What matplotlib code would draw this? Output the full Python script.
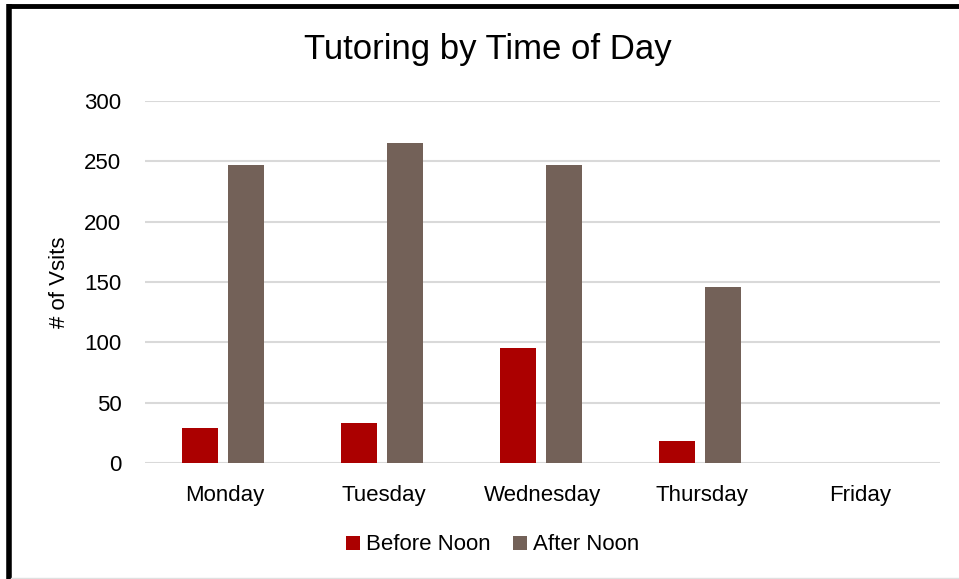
import matplotlib
matplotlib.use("Agg")
import matplotlib.pyplot as plt
import numpy as np
from matplotlib.lines import Line2D

categories = ["Monday", "Tuesday", "Wednesday", "Thursday", "Friday"]
before_noon = [29, 33, 95, 18, 0]
after_noon = [247, 265, 247, 146, 0]
yticks = [0, 50, 100, 150, 200, 250, 300]

plt.rcParams['font.family'] = ['Liberation Sans', 'DejaVu Sans']

fig = plt.figure(figsize=(9.59, 5.79), dpi=100)
ax = fig.add_axes([145/959, 1-463/579, (940-145)/959, (463-101)/579])

x = np.arange(len(categories))
w = 0.226
gap = 0.06
ax.bar(x - (w+gap)/2 - 0.01, before_noon, width=w, color="#AB0000", label="Before Noon", zorder=3)
ax.bar(x + (w+gap)/2 - 0.01, after_noon, width=w, color="#736158", label="After Noon", zorder=3)

ax.set_xlim(-0.5, len(categories)-0.5)
ax.set_ylim(0, 300)
ax.set_yticks(yticks)
ax.set_yticklabels([str(t) for t in yticks], fontsize=16)
ax.set_xticks(x)
ax.set_xticklabels(categories, fontsize=16)
ax.tick_params(axis='x', length=0, pad=16)
ax.tick_params(axis='y', length=0, pad=17)
ax.yaxis.grid(True, color="#D9D9D9", linewidth=1.5, zorder=0)
for s in ax.spines.values():
    s.set_visible(False)
ax.set_ylabel("# of Vsits", fontsize=16, labelpad=10)

fig.text(488/959, 1-49/579, "Tutoring by Time of Day", fontsize=25, ha="center", va="center")

ax.legend(loc="center", bbox_to_anchor=(493/959, 1-545/579), bbox_transform=fig.transFigure,
          ncol=2, frameon=False, fontsize=16, handlelength=0.6, handleheight=0.6,
          handletextpad=0.3, columnspacing=1.0)

# border
fig.add_artist(Line2D([8.5/959, 8.5/959], [0, 1-4/579], transform=fig.transFigure, color="black", linewidth=4, solid_capstyle="butt"))
fig.add_artist(Line2D([6.5/959, 1], [1-6/579, 1-6/579], transform=fig.transFigure, color="black", linewidth=3.5, solid_capstyle="butt"))
fig.add_artist(Line2D([11/959, 1], [1.5/579, 1.5/579], transform=fig.transFigure, color="#E0E0E0", linewidth=1))

fig.savefig("out.png", dpi=100)
